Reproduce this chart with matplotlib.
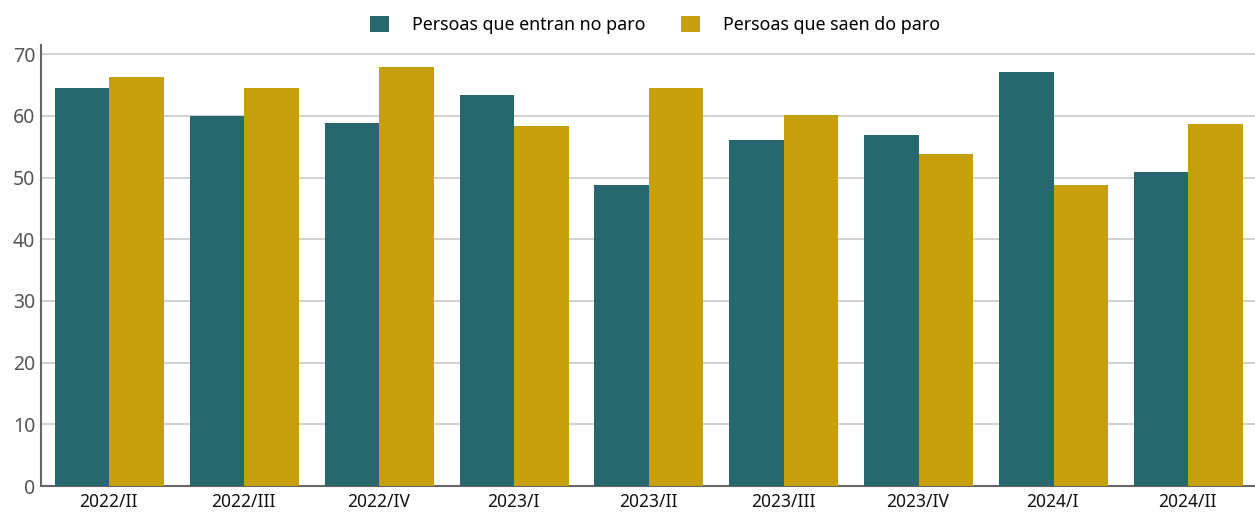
import matplotlib
matplotlib.use("Agg")
import matplotlib.pyplot as plt
import numpy as np

categories = ["2022/II", "2022/III", "2022/IV", "2023/I", "2023/II",
              "2023/III", "2023/IV", "2024/I", "2024/II"]
entran = [64.5, 60.0, 58.8, 63.4, 48.8, 56.1, 56.9, 67.1, 50.9]
saen = [66.3, 64.5, 67.9, 58.3, 64.5, 60.1, 53.8, 48.8, 58.7]
series_names = ["Persoas que entran no paro", "Persoas que saen do paro"]
colors = ["#27676e", "#c59f0c"]

plt.rcParams['font.family'] = ['Noto Sans', 'DejaVu Sans']

fig = plt.figure(figsize=(12.55, 5.13), dpi=100)
ax = fig.add_axes([41/1255, 27/513, 1 - 41/1255, (486-45)/513])

x = np.arange(len(categories))
w = 0.404
ax.bar(x - w/2 + 0.007, entran, width=w, color=colors[0], label=series_names[0], zorder=3)
ax.bar(x + w/2 + 0.007, saen, width=w, color=colors[1], label=series_names[1], zorder=3)

ax.set_xlim(-0.5, len(categories) - 0.5)
ax.set_ylim(0, 71.5)
ax.set_yticks(np.arange(0, 71, 10))
ax.yaxis.grid(True, color="#c8c8c8", linewidth=1.2, zorder=0)
ax.set_axisbelow(True)

ax.set_xticks(x)
ax.set_xticklabels(categories, fontsize=12.5, color="#111111")
ax.tick_params(axis='x', length=0, pad=5)
ax.tick_params(axis='y', length=0, pad=4, labelsize=14, labelcolor="#555555")

for s in ["top", "right"]:
    ax.spines[s].set_visible(False)
ax.spines["left"].set_color("#666666")
ax.spines["left"].set_linewidth(1.5)
ax.spines["bottom"].set_color("#666666")
ax.spines["bottom"].set_linewidth(1.5)

fig.legend(loc="upper center", bbox_to_anchor=(0.522, 1.0), ncol=2, frameon=False,
           fontsize=12.8, handlelength=1.05, handleheight=1.05, columnspacing=2.0,
           handletextpad=1.3)

fig.savefig("out.png", dpi=100)
